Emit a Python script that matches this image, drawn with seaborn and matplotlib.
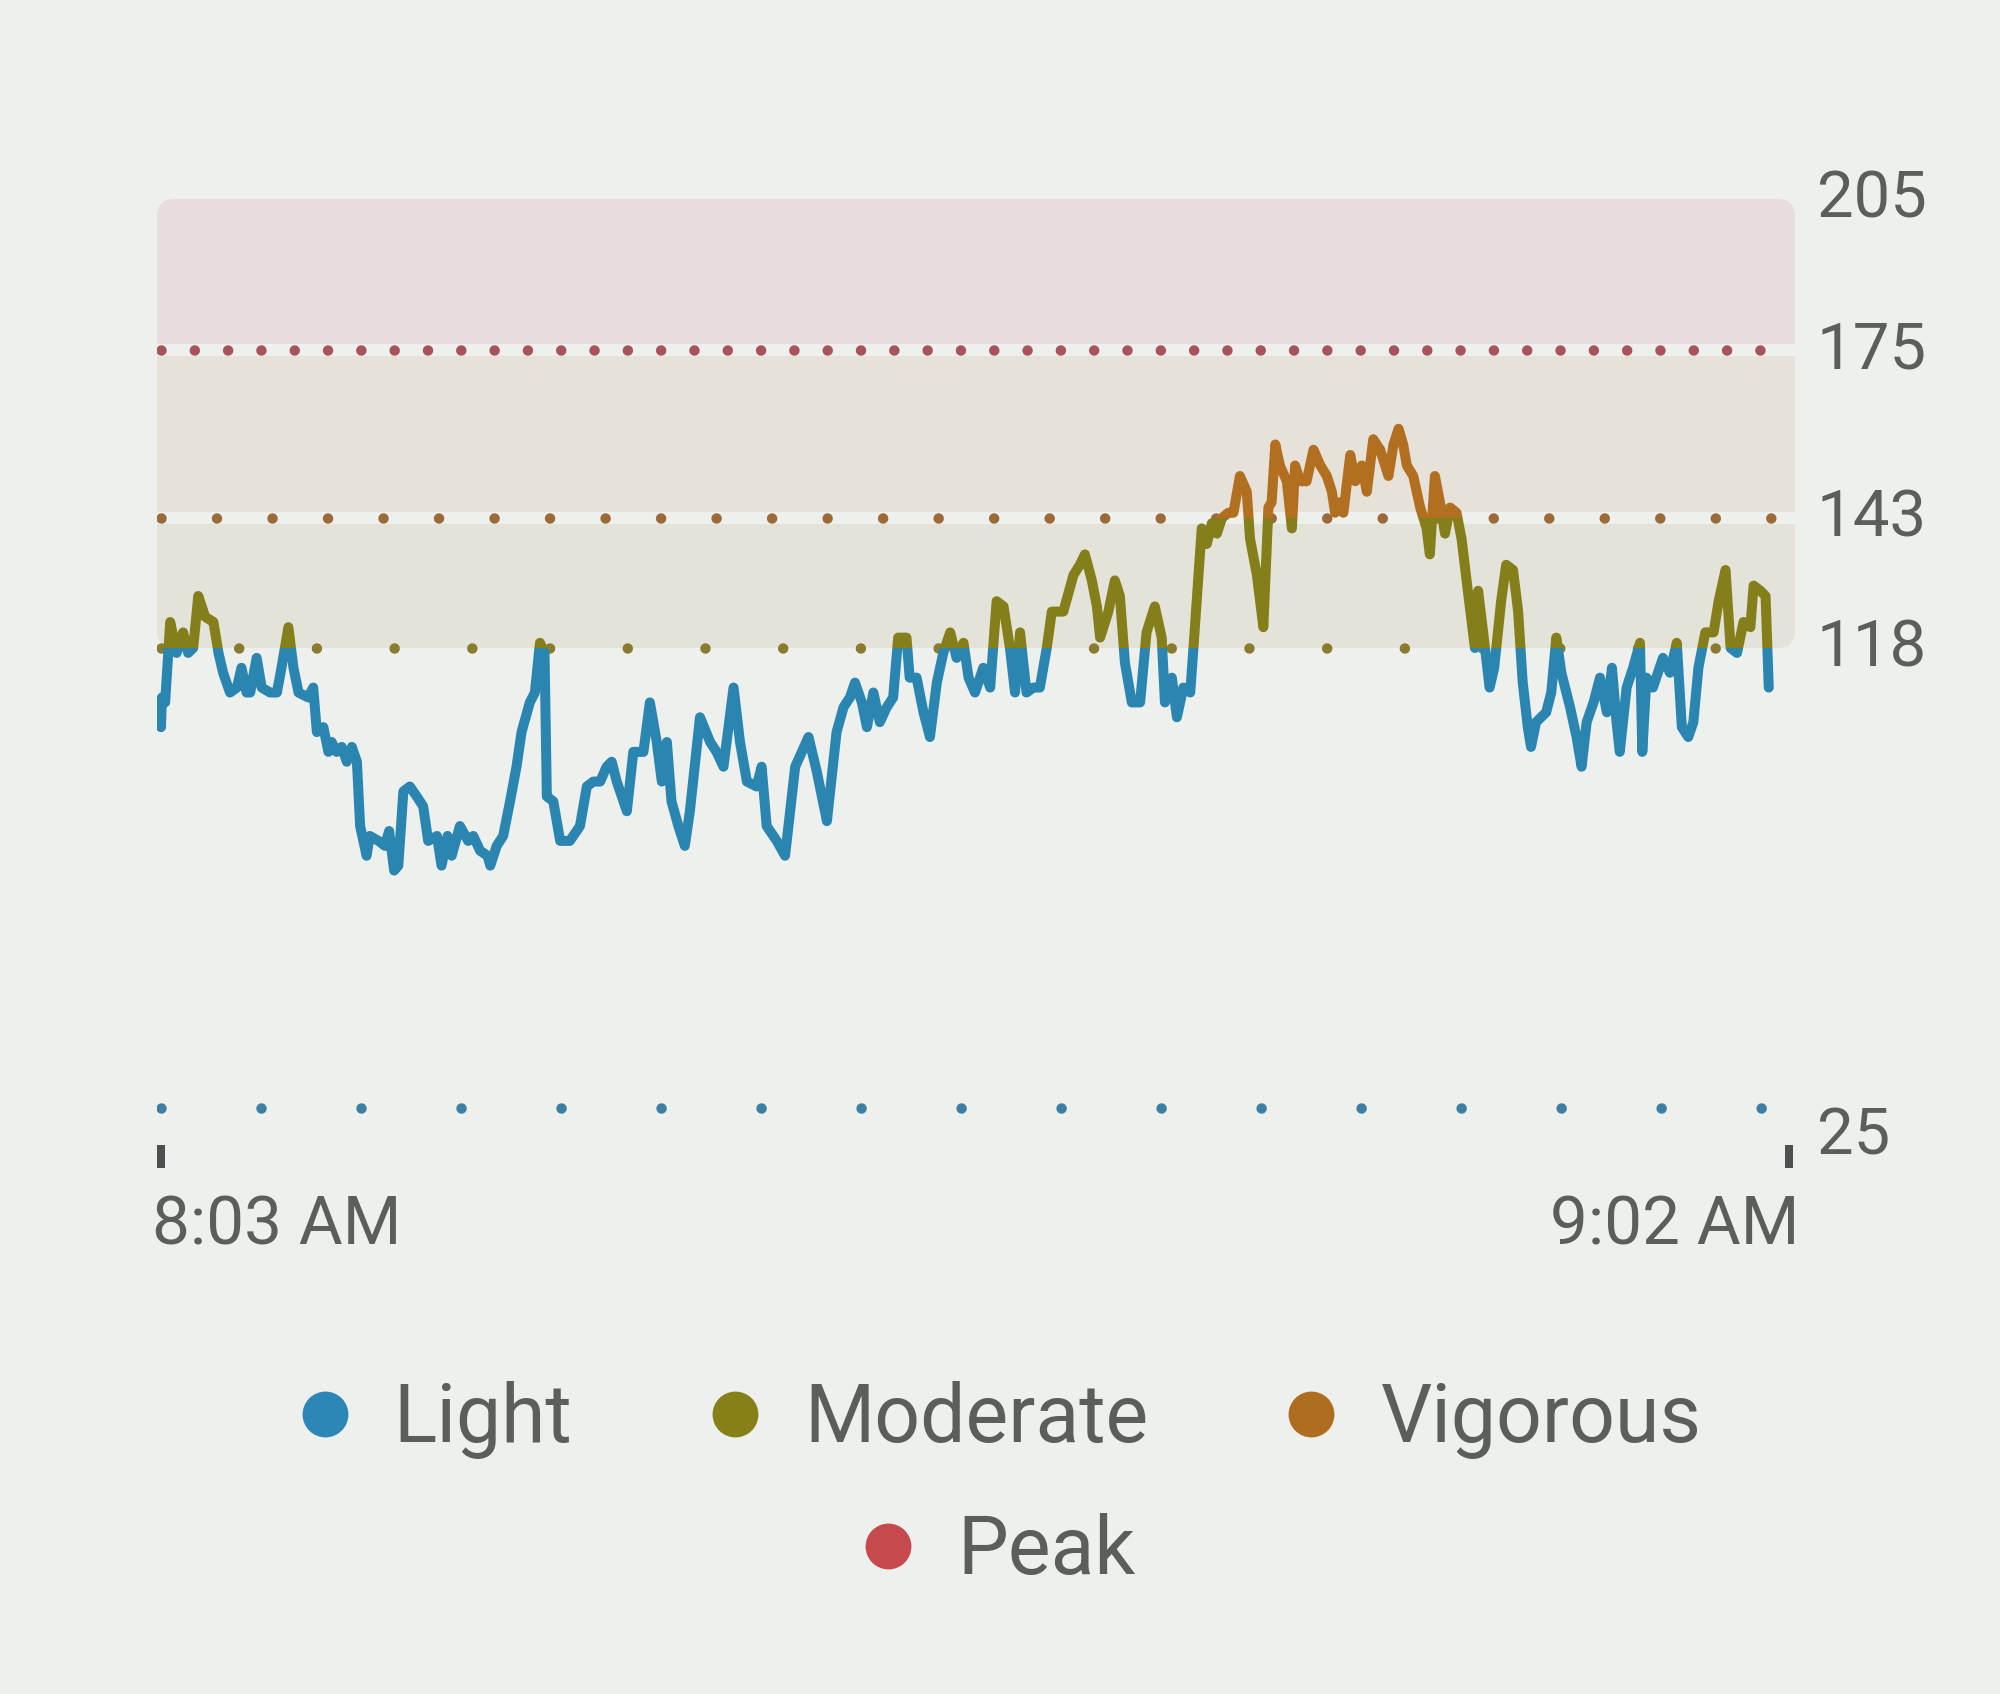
import numpy as np
import pandas as pd
import matplotlib
matplotlib.use("Agg")
import matplotlib.pyplot as plt
import seaborn as sns
from matplotlib.patches import FancyBboxPatch, Rectangle
from matplotlib.transforms import IdentityTransform, blended_transform_factory
from matplotlib.lines import Line2D

# ---------------- data ----------------
seconds = [
    0, 2, 9, 20, 34, 48, 59, 70, 81, 96,
    114, 125, 135, 150, 165, 175, 186, 194, 208, 219,
    237, 252, 262, 277, 288, 299, 320, 331, 339, 353,
    364, 371, 382, 393, 404, 415, 426, 433, 447, 454,
    473, 487, 496, 507, 516, 527, 541, 556, 570, 581,
    600, 610, 623, 632, 650, 668, 679, 694, 710, 716,
    730, 744, 759, 773, 784, 802, 813, 824, 834, 839,
    853, 868, 889, 911, 926, 940, 955, 969, 980, 991,
    1013, 1027, 1049, 1063, 1078, 1089, 1100, 1110, 1125, 1139,
    1150, 1172, 1194, 1208, 1223, 1245, 1259, 1274, 1295, 1306,
    1317, 1339, 1357, 1379, 1408, 1426, 1448, 1469, 1484, 1498,
    1509, 1524, 1535, 1549, 1563, 1578, 1592, 1603, 1621, 1628,
    1643, 1658, 1672, 1687, 1701, 1716, 1730, 1745, 1756, 1770,
    1788, 1803, 1817, 1832, 1846, 1857, 1868, 1882, 1897, 1911,
    1926, 1937, 1962, 1984, 1998, 2009, 2024, 2035, 2042, 2060,
    2074, 2085, 2096, 2111, 2129, 2143, 2161, 2176, 2183, 2198,
    2209, 2223, 2238, 2245, 2252, 2263, 2274, 2285, 2296, 2307,
    2321, 2332, 2346, 2361, 2368, 2383, 2397, 2408, 2415, 2423,
    2433, 2448, 2459, 2466, 2477, 2491, 2506, 2521, 2535, 2546,
    2553, 2564, 2571, 2586, 2597, 2611, 2622, 2636, 2651, 2669,
    2680, 2691, 2701, 2709, 2723, 2738, 2752, 2759, 2770, 2781,
    2792, 2803, 2817, 2828, 2843, 2857, 2864, 2875, 2889, 2899,
    2914, 2925, 2940, 2951, 2961, 2972, 2979, 2990, 3012, 3023,
    3034, 3045, 3064, 3078, 3089, 3100, 3115, 3129, 3144, 3155,
    3165, 3172, 3187, 3201, 3216, 3221, 3230, 3244, 3266, 3281,
    3296, 3307, 3321, 3332, 3343, 3358, 3376, 3387, 3402, 3413,
    3427, 3441, 3456, 3463, 3478, 3489, 3496,
]
bpm = [
    102, 108, 107, 123, 117, 121, 117, 118, 128, 124,
    123, 117, 113, 109, 110, 114, 109, 109, 116, 110,
    109, 109, 114, 122, 114, 109, 108, 110, 101, 102,
    97, 99, 97, 98, 95, 98, 95, 82, 76, 80,
    79, 78, 81, 73, 74, 89, 90, 88, 86, 79,
    80, 74, 80, 76, 82, 79, 80, 77, 76, 74,
    78, 80, 87, 94, 101, 107, 109, 119, 117, 88,
    87, 79, 79, 82, 90, 91, 91, 94, 95, 91,
    85, 97, 97, 107, 99, 91, 99, 87, 82, 78,
    85, 104, 99, 97, 94, 110, 99, 91, 90, 94,
    82, 79, 76, 94, 100, 93, 83, 101, 106, 108,
    111, 107, 102, 109, 103, 106, 108, 120, 120, 112,
    112, 105, 100, 111, 117, 121, 116, 119, 112, 109,
    114, 110, 127, 126, 118, 109, 121, 109, 110, 110,
    118, 125, 125, 132, 134, 136, 131, 126, 120, 125,
    131, 128, 115, 107, 107, 121, 126, 120, 107, 112,
    104, 110, 109, 118, 127, 141, 138, 142, 140, 143,
    144, 144, 151, 148, 139, 132, 122, 145, 146, 157,
    153, 150, 141, 153, 150, 150, 156, 153, 151, 148,
    144, 146, 144, 155, 150, 153, 148, 158, 156, 151,
    157, 160, 157, 153, 151, 145, 141, 136, 151, 146,
    140, 145, 144, 139, 128, 118, 129, 121, 110, 114,
    127, 134, 133, 125, 111, 102, 98, 103, 105, 109,
    120, 113, 106, 100, 94, 103, 107, 112, 105, 114,
    103, 97, 110, 114, 119, 97, 112, 110, 116, 113,
    119, 102, 100, 103, 114, 121, 121, 127, 133, 118,
    117, 123, 122, 130, 129, 128, 110,
]
zone_names = ["Light", "Moderate", "Vigorous", "Peak"]
zone_thresholds = [25, 118, 143, 175]
axis_top = 205
y_label_values = [205, 175, 143, 118, 25]
x_tick_seconds = [0, 3540]
x_tick_labels = ["8:03 AM", "9:02 AM"]

# ---------------- style ----------------
BG = "#EEF0ED"
TEXT = "#5A5F5C"
TICK = "#4C504E"
LINE_COLORS = ["#2A86B1", "#857F1B", "#B26F20"]          # light, moderate, vigorous
DOT_COLORS = ["#3C7FA4", "#8A7B2F", "#9C6A38", "#A8525A"]  # 25, 118, 143, 175
LEGEND_COLORS = ["#2B87B6", "#878019", "#AE6D1F", "#C64A4D"]
BAND_COLORS = ["#E4E3D9", "#E6E2DA", "#E8DEDD"]          # 118-143, 143-175, 175-205
DOT_SPACING_PX = [100, 77.7, 55.5, 33.3]

sns.set_theme(style="white")
plt.rcParams["font.family"] = ["Roboto", "DejaVu Sans"]

W, H = 2000, 1694
fig = plt.figure(figsize=(W / 100, H / 100), dpi=100, facecolor=BG)
ax_left, ax_right, ax_top, ax_bottom = 157, 1795, 199, 1145
ax = fig.add_axes([ax_left / W, 1 - ax_bottom / H, (ax_right - ax_left) / W, (ax_bottom - ax_top) / H])
ax.set_facecolor(BG)
for sp in ax.spines.values():
    sp.set_visible(False)

# piecewise-linear vertical scale matching the reference layout
anchor_vals = [0, 25, 118, 143, 175, 205, 300]
anchor_px = [1231.6, 1108, 648, 518, 350, 199, -283]
neg_px = [-p for p in anchor_px]
fwd = lambda v: np.interp(v, anchor_vals, neg_px)
inv = lambda u: np.interp(u, neg_px, anchor_vals)
ax.set_yscale("function", functions=(fwd, inv))
ax.set_ylim(float(inv(-ax_bottom)), axis_top)
sec_per_px = 3540 / (1789 - 161)
ax.set_xlim((ax_left - 161) * sec_per_px, (ax_right - 161) * sec_per_px)

# zone bands in a rounded box
y_lo = ax.transData.transform((0, zone_thresholds[1]))[1]
y_hi = ax.transData.transform((0, axis_top))[1]
x_l, x_r = ax.transAxes.transform([(0, 0), (1, 0)])[:, 0]
box = FancyBboxPatch((x_l, y_lo), x_r - x_l, y_hi - y_lo,
                     boxstyle="round,pad=0,rounding_size=18",
                     transform=IdentityTransform(), facecolor="none", edgecolor="none")
band_edges = [zone_thresholds[1], zone_thresholds[2], zone_thresholds[3], axis_top]
for i, col in enumerate(BAND_COLORS):
    span = ax.axhspan(band_edges[i], band_edges[i + 1], color=col, lw=0, zorder=0.5)
    span.set_clip_path(box)
for thr in zone_thresholds[2:]:
    ax.axhline(thr, color=BG, lw=12 * 0.72, zorder=0.6)

# dotted zone threshold lines
dot_px = 10.5
for thr, col, spc in zip(zone_thresholds, DOT_COLORS, DOT_SPACING_PX):
    ax.plot(x_tick_seconds, [thr, thr], color=col, lw=dot_px * 0.72,
            linestyle=(0, (0.001, spc / dot_px)), dash_capstyle="round", zorder=1)

# heart-rate line coloured by zone
df = pd.DataFrame({"seconds": seconds, "bpm": bpm})
blend = blended_transform_factory(ax.transAxes, ax.transData)
clip_ranges = [(0, zone_thresholds[1]), (zone_thresholds[1], zone_thresholds[2]), (zone_thresholds[2], 300)]
for (lo, hi), col in zip(clip_ranges, LINE_COLORS):
    sns.lineplot(data=df, x="seconds", y="bpm", color=col, lw=7.2, ax=ax,
                 solid_capstyle="round", solid_joinstyle="round", zorder=2)
    ln = ax.lines[-1]
    ln.set_clip_path(Rectangle((0, lo), 1, hi - lo, transform=blend))

# axes ticks / labels
ax.set_xlabel("")
ax.set_ylabel("")
ax.set_yticks([])
ax.set_xticks(x_tick_seconds)
ax.set_xticklabels([])
ax.tick_params(axis="x", length=23 * 0.72, width=8 * 0.72, color=TICK, direction="out",
               pad=0, bottom=True)

px = 0.72  # points per pixel at 100 dpi
ax.annotate(x_tick_labels[0], xy=(0, 0), xycoords="axes fraction", xytext=(-5 * px, -99 * px),
            textcoords="offset points", ha="left", va="baseline", fontsize=48.5, color=TEXT,
            annotation_clip=False)
ax.annotate(x_tick_labels[1], xy=(1, 0), xycoords="axes fraction", xytext=(5 * px, -99 * px),
            textcoords="offset points", ha="right", va="baseline", fontsize=48.5, color=TEXT,
            annotation_clip=False)

for v in y_label_values:
    dy = -28 * px if v == zone_thresholds[0] else 0
    ax.annotate(str(v), xy=(1, v), xycoords=blend, xytext=(15.5, dy), textcoords="offset points",
                ha="left", va="center", fontsize=47, color=TEXT, annotation_clip=False)

# legend
handles = [Line2D([], [], marker="o", ls="", ms=33, mfc=c, mec="none") for c in LEGEND_COLORS]
common = dict(loc="center", frameon=False, fontsize=58, handlelength=0.6, handletextpad=0.56,
              columnspacing=1.72, borderpad=0, borderaxespad=0, labelcolor=TEXT)
leg1 = fig.legend(handles[:3], zone_names[:3], ncol=3, bbox_to_anchor=(0.5005, 1 - 1420 / H), **common)
leg2 = fig.legend(handles[3:], zone_names[3:], ncol=1, bbox_to_anchor=(0.5, 1 - 1552 / H), **common)

fig.savefig("out.png", dpi=100, facecolor=BG)
